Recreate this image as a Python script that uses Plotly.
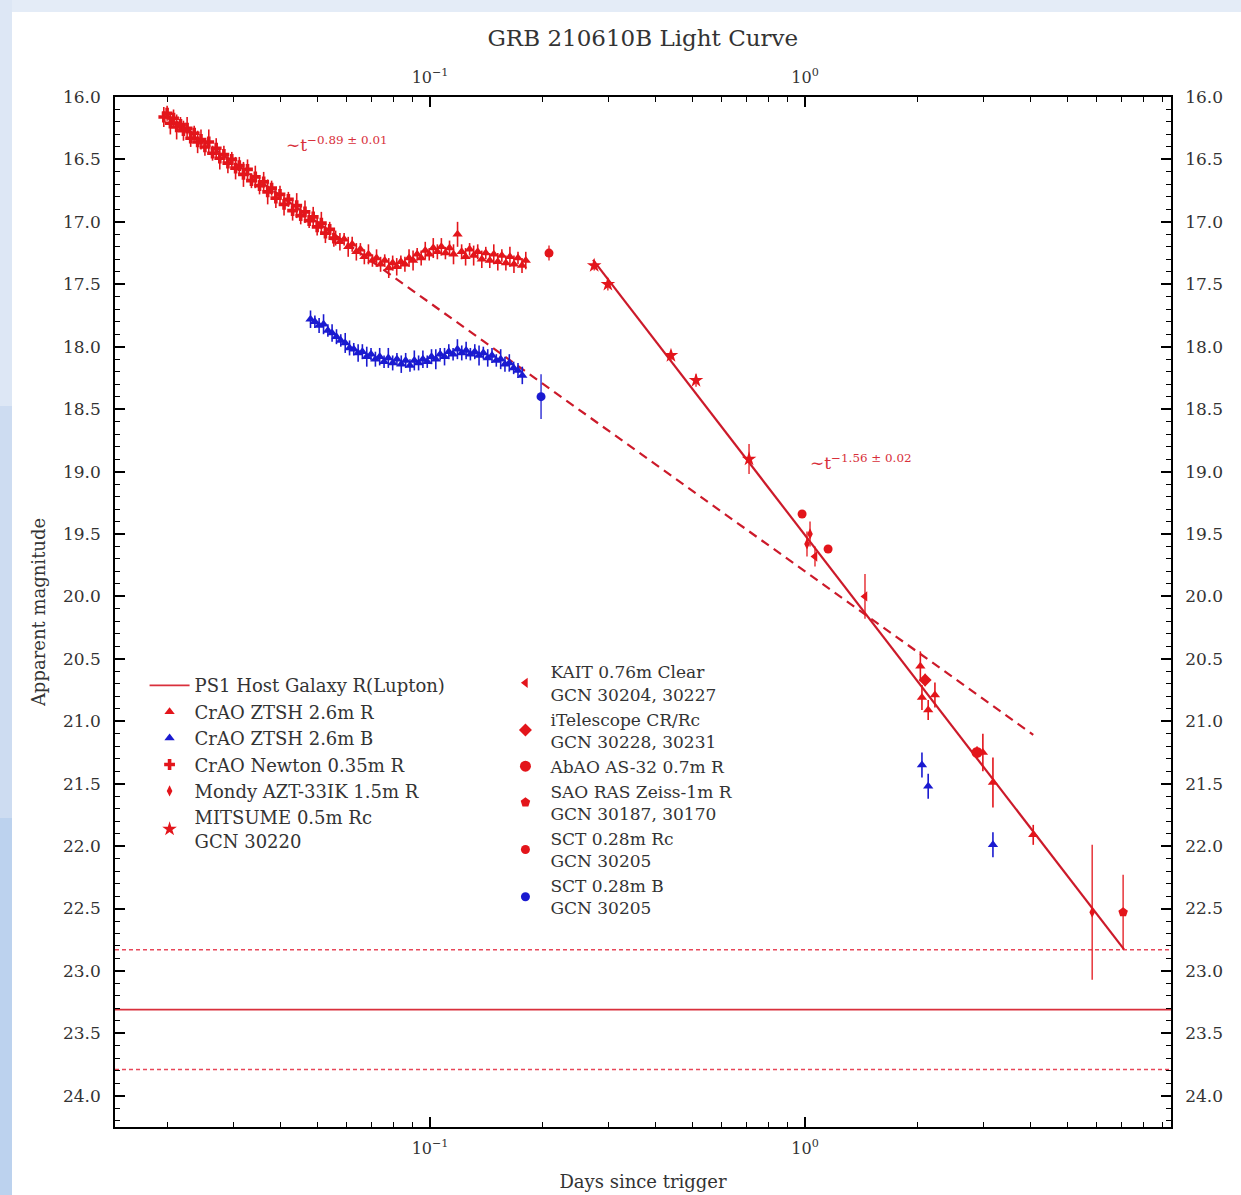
import math
import plotly.graph_objects as go

# ---------------- data ----------------
# CrAO Newton 0.35m R (early dense red cloud)
newton_t = [0.0195, 0.0199, 0.0203, 0.0207, 0.0211, 0.0216, 0.0220, 0.0225, 0.0230, 0.0235,
            0.0240, 0.0245, 0.0251, 0.0257, 0.0263, 0.0269, 0.0275, 0.0282, 0.0289, 0.0296,
            0.0303, 0.0310, 0.0318, 0.0326, 0.0334, 0.0342, 0.0351, 0.0360, 0.0369, 0.0378,
            0.0388, 0.0398, 0.0408, 0.0419, 0.0430, 0.0441, 0.0452, 0.0464, 0.0476, 0.0488,
            0.0500, 0.0513, 0.0526, 0.0540, 0.0554]
newton_m = [16.16, 16.13, 16.21, 16.17, 16.24, 16.22, 16.27, 16.25, 16.33, 16.29,
            16.36, 16.34, 16.40, 16.36, 16.45, 16.41, 16.49, 16.46, 16.53, 16.50,
            16.57, 16.55, 16.62, 16.58, 16.67, 16.64, 16.71, 16.68, 16.76, 16.73,
            16.81, 16.78, 16.86, 16.82, 16.91, 16.87, 16.95, 16.92, 16.99, 16.96,
            17.04, 17.01, 17.09, 17.06, 17.13]
newton_e = [0.08, 0.06, 0.09, 0.07, 0.10, 0.06, 0.08, 0.09, 0.07, 0.06,
            0.09, 0.08, 0.07, 0.10, 0.06, 0.08, 0.09, 0.07, 0.08, 0.06,
            0.09, 0.07, 0.10, 0.08, 0.06, 0.09, 0.07, 0.08, 0.10, 0.06,
            0.08, 0.07, 0.09, 0.06, 0.08, 0.10, 0.07, 0.09, 0.06, 0.08,
            0.07, 0.09, 0.08, 0.06, 0.07]

# CrAO ZTSH 2.6m R
ztsh_r_t = [0.0560, 0.0575, 0.0590, 0.0605, 0.0620, 0.0636, 0.0652, 0.0668, 0.0685, 0.0702,
            0.0720, 0.0738, 0.0757, 0.0776, 0.0795, 0.0815, 0.0836, 0.0857, 0.0879, 0.0901,
            0.0924, 0.0947, 0.0971, 0.0995, 0.1020, 0.1046, 0.1072, 0.1099, 0.1127, 0.1155,
            0.1184, 0.1214, 0.1244, 0.1275, 0.1307, 0.1340, 0.1374, 0.1408, 0.1443, 0.1479,
            0.1516, 0.1554, 0.1593, 0.1633, 0.1674, 0.1716, 0.1759, 0.1800,
            2.03, 2.05, 2.13, 2.22, 2.98, 3.17, 4.06]
ztsh_r_m = [17.13, 17.16, 17.14, 17.20, 17.18, 17.24, 17.22, 17.28, 17.26, 17.31,
            17.29, 17.34, 17.31, 17.37, 17.33, 17.36, 17.32, 17.34, 17.29, 17.31,
            17.26, 17.29, 17.23, 17.26, 17.21, 17.24, 17.20, 17.25, 17.21, 17.26,
            17.10, 17.24, 17.28, 17.22, 17.27, 17.24, 17.30, 17.25, 17.31, 17.26,
            17.32, 17.27, 17.33, 17.28, 17.34, 17.29, 17.35, 17.31,
            20.56, 20.81, 20.91, 20.79, 21.25, 21.49, 21.91]
ztsh_r_e = [0.06, 0.07, 0.05, 0.08, 0.06, 0.07, 0.05, 0.06, 0.08, 0.05,
            0.07, 0.06, 0.05, 0.08, 0.06, 0.07, 0.05, 0.06, 0.07, 0.08,
            0.05, 0.06, 0.07, 0.05, 0.08, 0.06, 0.07, 0.05, 0.06, 0.08,
            0.10, 0.06, 0.07, 0.05, 0.08, 0.06, 0.07, 0.05, 0.06, 0.08,
            0.07, 0.05, 0.06, 0.08, 0.07, 0.05, 0.06, 0.07,
            0.12, 0.10, 0.08, 0.10, 0.15, 0.20, 0.08]

# CrAO ZTSH 2.6m B
ztsh_b_t = [0.0480, 0.0493, 0.0506, 0.0520, 0.0534, 0.0548, 0.0563, 0.0578, 0.0594, 0.0610,
            0.0626, 0.0643, 0.0660, 0.0678, 0.0696, 0.0715, 0.0734, 0.0754, 0.0774, 0.0795,
            0.0816, 0.0838, 0.0861, 0.0884, 0.0908, 0.0932, 0.0957, 0.0983, 0.1009, 0.1036,
            0.1064, 0.1093, 0.1122, 0.1152, 0.1183, 0.1215, 0.1248, 0.1281, 0.1316, 0.1351,
            0.1387, 0.1425, 0.1463, 0.1502, 0.1543, 0.1584, 0.1627, 0.1671, 0.1716, 0.1762,
            2.05, 2.13, 3.17]
ztsh_b_m = [17.78, 17.80, 17.83, 17.82, 17.87, 17.89, 17.92, 17.95, 17.97, 18.01,
            18.02, 18.05, 18.04, 18.08, 18.06, 18.10, 18.08, 18.12, 18.09, 18.13,
            18.10, 18.14, 18.11, 18.15, 18.11, 18.13, 18.10, 18.12, 18.08, 18.10,
            18.06, 18.08, 18.04, 18.06, 18.02, 18.05, 18.03, 18.06, 18.04, 18.07,
            18.05, 18.09, 18.07, 18.11, 18.10, 18.14, 18.13, 18.17, 18.19, 18.23,
            21.35, 21.52, 21.99]
ztsh_b_e = [0.07, 0.05, 0.06, 0.08, 0.05, 0.07, 0.06, 0.05, 0.08, 0.06,
            0.05, 0.07, 0.06, 0.08, 0.05, 0.06, 0.07, 0.05, 0.08, 0.06,
            0.05, 0.07, 0.06, 0.05, 0.08, 0.06, 0.07, 0.05, 0.06, 0.08,
            0.05, 0.07, 0.06, 0.05, 0.08, 0.06, 0.07, 0.05, 0.06, 0.08,
            0.05, 0.07, 0.06, 0.05, 0.08, 0.06, 0.07, 0.05, 0.06, 0.07,
            0.10, 0.10, 0.10]

mondy_t = [1.012, 1.031, 5.83]
mondy_m = [19.58, 19.50, 22.53]
mondy_e = [0.10, 0.10, 0.54]

mitsume_t = [0.274, 0.298, 0.439, 0.512, 0.709]
mitsume_m = [17.35, 17.50, 18.07, 18.27, 18.90]
mitsume_e = [0.04, 0.05, 0.04, 0.05, 0.12]

kait_t = [1.063, 1.445]
kait_m = [19.68, 20.00]
kait_e = [0.08, 0.18]

itel_t = [2.09]
itel_m = [20.67]
itel_e = [0.05]

abao_t = [2.875]
abao_m = [21.25]
abao_e = [0.05]

sao_t = [7.05]
sao_m = [22.53]
sao_e = [0.30]

sct_rc_t = [0.2076, 0.982, 1.152]
sct_rc_m = [17.25, 19.34, 19.62]
sct_rc_e = [0.06, 0.03, 0.03]

sct_b_t = [0.1977]
sct_b_m = [18.40]
sct_b_e = [0.18]

# power-law fits  m = m0 + 2.5*alpha*log10(t)
fit1_alpha, fit1_m0, fit1_t = 0.86, 19.80, [0.0195, 4.06]
fit2_alpha, fit2_m0, fit2_t = 1.56, 19.51, [0.272, 7.09]

# PS1 host galaxy magnitude and uncertainty
host_mag, host_err = 23.31, 0.48

x_range_days = [0.01445, 9.46]
y_range_mag = [24.25, 16.0]

x_tick_vals = [0.1, 1]
x_tick_text = ["10<sup>\u22121</sup>", "10<sup>0</sup>"]
x_minor_vals = [0.02, 0.03, 0.04, 0.05, 0.06, 0.07, 0.08, 0.09,
                0.2, 0.3, 0.4, 0.5, 0.6, 0.7, 0.8, 0.9,
                2, 3, 4, 5, 6, 7, 8, 9]

# ---------------- figure ----------------
RED = "#e3151b"
DRED = "#cc1a2a"
BLUE = "#1a1ad0"
FONT = "DejaVu Serif"
TXT = "#333333"

fig = go.Figure()


def plaw(m0, alpha, ts):
    return [m0 + 2.5 * alpha * math.log10(t) for t in ts]


# host galaxy lines
fig.add_trace(go.Scatter(x=x_range_days, y=[host_mag, host_mag], mode="lines",
                         line=dict(color="#d9303c", width=1.8),
                         name="PS1 Host Galaxy R(Lupton)", legend="legend", hoverinfo="skip"))
for s in (-1, 1):
    fig.add_trace(go.Scatter(x=x_range_days, y=[host_mag + s * host_err] * 2, mode="lines",
                             line=dict(color="#e8485a", width=1.6, dash="4px,3px"),
                             showlegend=False, hoverinfo="skip"))

# fit lines
fig.add_trace(go.Scatter(x=fit1_t, y=plaw(fit1_m0, fit1_alpha, fit1_t), mode="lines",
                         line=dict(color=DRED, width=2.2, dash="9px,6px"),
                         showlegend=False, hoverinfo="skip"))
fig.add_trace(go.Scatter(x=fit2_t, y=plaw(fit2_m0, fit2_alpha, fit2_t), mode="lines",
                         line=dict(color=DRED, width=2.2),
                         showlegend=False, hoverinfo="skip"))


def add_series(t, m, e, name, color, symbol, size, legend, lw=1.3):
    fig.add_trace(go.Scatter(
        x=t, y=m, mode="markers", name=name, legend=legend,
        marker=dict(color=color, symbol=symbol, size=size, line=dict(width=0)),
        error_y=dict(type="data", array=e, visible=True, color=color,
                     thickness=lw, width=0),
    ))


add_series(ztsh_r_t, ztsh_r_m, ztsh_r_e, "CrAO ZTSH 2.6m R", RED, "triangle-up", 9, "legend", 1.6)
add_series(ztsh_b_t, ztsh_b_m, ztsh_b_e, "CrAO ZTSH 2.6m B", BLUE, "triangle-up", 9, "legend", 1.6)
add_series(newton_t, newton_m, newton_e, "CrAO Newton 0.35m R", RED, "cross", 9, "legend", 1.6)
add_series(mondy_t, mondy_m, mondy_e, "Mondy AZT-33IK 1.5m R", RED, "diamond-tall", 8, "legend")
add_series(mitsume_t, mitsume_m, mitsume_e, "MITSUME 0.5m Rc<br>GCN 30220", RED, "star", 11, "legend")

add_series(kait_t, kait_m, kait_e, "KAIT 0.76m Clear<br>GCN 30204, 30227", RED, "triangle-left", 9, "legend2")
add_series(itel_t, itel_m, itel_e, "iTelescope CR/Rc<br>GCN 30228, 30231", RED, "diamond", 10, "legend2")
add_series(abao_t, abao_m, abao_e, "AbAO AS-32 0.7m R", RED, "circle", 11, "legend2")
add_series(sao_t, sao_m, sao_e, "SAO RAS Zeiss-1m R<br>GCN 30187, 30170", RED, "pentagon", 10, "legend2")
add_series(sct_rc_t, sct_rc_m, sct_rc_e, "SCT 0.28m Rc<br>GCN 30205", RED, "circle", 9, "legend2")
add_series(sct_b_t, sct_b_m, sct_b_e, "SCT 0.28m B<br>GCN 30205", BLUE, "circle", 9, "legend2")

# invisible trace to anchor the mirrored (top / right) axes
fig.add_trace(go.Scatter(x=[1], y=[20], xaxis="x2", yaxis="y2", mode="markers",
                         marker=dict(opacity=0), showlegend=False, hoverinfo="skip"))

# annotations for the fits
fig.add_annotation(x=math.log10(0.0565), y=16.38, xref="x", yref="y", showarrow=False,
                   text="\u223ct<sup>\u22120.89 \u00b1 0.01</sup>",
                   font=dict(family=FONT, size=17, color="#d8303a"))
fig.add_annotation(x=math.log10(1.41), y=18.92, xref="x", yref="y", showarrow=False,
                   text="\u223ct<sup>\u22121.56 \u00b1 0.02</sup>",
                   font=dict(family=FONT, size=17, color="#d8303a"))

xr = [math.log10(x_range_days[0]), math.log10(x_range_days[1])]
xaxis_common = dict(
    type="log", range=xr, tickmode="array", tickvals=x_tick_vals, ticktext=x_tick_text,
    ticks="inside", ticklen=10, tickwidth=1.6, tickcolor="black", automargin=False,
    showline=True, linecolor="black", linewidth=1.6, showgrid=False, zeroline=False,
    tickfont=dict(family=FONT, size=16, color=TXT), ticklabelstandoff=6,
    minor=dict(tickmode="array", tickvals=x_minor_vals, ticks="inside", ticklen=5,
               tickwidth=1.3, tickcolor="black", showgrid=False),
)
yaxis_common = dict(
    range=y_range_mag, tick0=16.0, dtick=0.5, tickformat=".1f",
    ticks="inside", ticklen=10, tickwidth=1.6, tickcolor="black", automargin=False,
    showline=True, linecolor="black", linewidth=1.6, showgrid=False, zeroline=False,
    tickfont=dict(family=FONT, size=17, color=TXT), ticklabelstandoff=9,
    minor=dict(dtick=0.1, ticks="inside", ticklen=5, tickwidth=1.3, tickcolor="black",
               showgrid=False),
)

fig.update_layout(
    width=1241, height=1195,
    margin=dict(l=115, r=70, t=97, b=68, autoexpand=False),
    paper_bgcolor="white", plot_bgcolor="white",
    font=dict(family=FONT, color=TXT),
    title=dict(text="GRB 210610B Light Curve", x=0.518, xanchor="center", y=0.968,
               yanchor="middle", font=dict(family=FONT, size=23, color=TXT)),
    xaxis=dict(**xaxis_common,
               title=dict(text="Days since trigger", font=dict(family=FONT, size=18, color=TXT),
                          standoff=18)),
    xaxis2=dict(**xaxis_common, overlaying="x", side="top", matches="x"),
    yaxis=dict(**yaxis_common,
               title=dict(text="Apparent magnitude", font=dict(family=FONT, size=18, color=TXT),
                          standoff=13)),
    yaxis2=dict(**yaxis_common, overlaying="y", side="right", matches="y"),
    legend=dict(x=0.028, y=0.4465, xanchor="left", yanchor="top", bgcolor="rgba(0,0,0,0)",
                font=dict(family=FONT, size=18, color=TXT), tracegroupgap=0,
                itemwidth=40, valign="middle"),
    legend2=dict(x=0.365, y=0.459, xanchor="left", yanchor="top", bgcolor="rgba(0,0,0,0)",
                 font=dict(family=FONT, size=17, color=TXT), tracegroupgap=0,
                 itemwidth=40, valign="middle"),
    showlegend=True,
)

# light blue frame around the picture (as in the reference screenshot)
fig.add_shape(type="rect", xref="paper", yref="paper", x0=-0.2, x1=1.1, y0=1.0 + 85 / 1030,
              y1=1.2, fillcolor="#e4ecf7", line=dict(width=0), layer="below")
fig.add_shape(type="rect", xref="paper", yref="paper", x0=-115 / 1056, x1=-103 / 1056,
              y0=-0.1, y1=0.3, fillcolor="#bcd2ee", line=dict(width=0), layer="below")
fig.add_shape(type="rect", xref="paper", yref="paper", x0=-115 / 1056, x1=-103 / 1056,
              y0=0.3, y1=0.7, fillcolor="#cddcf1", line=dict(width=0), layer="below")
fig.add_shape(type="rect", xref="paper", yref="paper", x0=-115 / 1056, x1=-103 / 1056,
              y0=0.7, y1=1.2, fillcolor="#dde7f5", line=dict(width=0), layer="below")

fig.write_html("out.html", config={"displayModeBar": False},
               post_script="document.body.style.margin='0px';")
